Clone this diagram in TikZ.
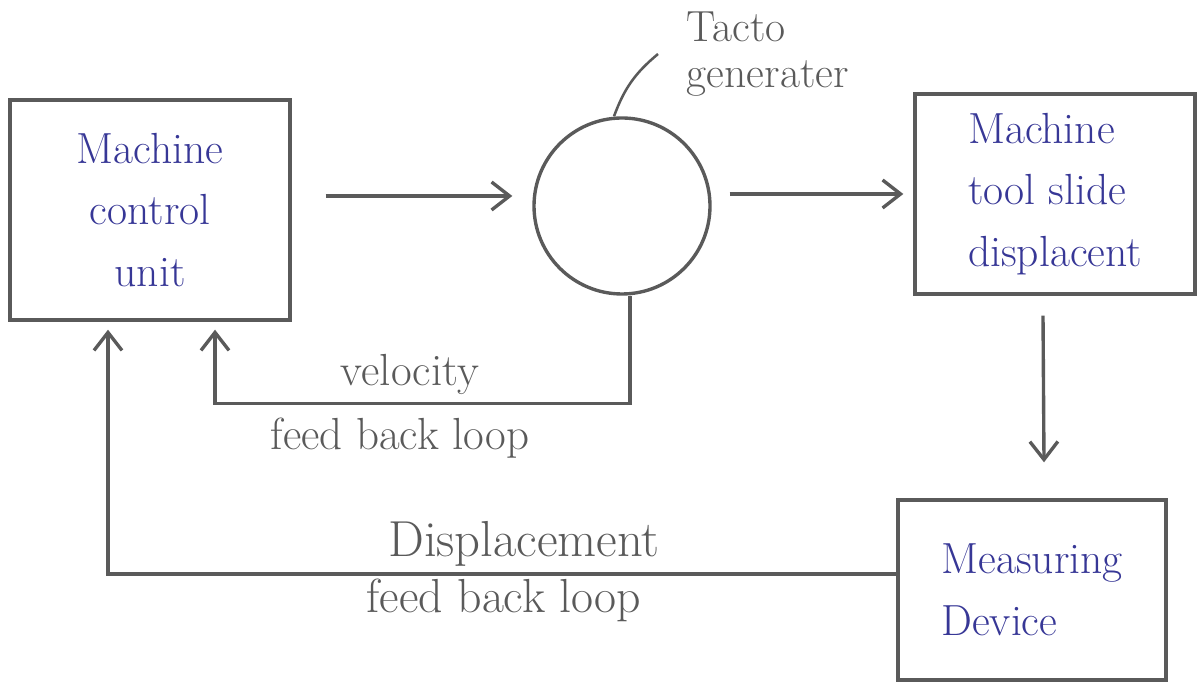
\documentclass[tikz,border=0pt]{standalone}
\usepackage{tikz}
\usetikzlibrary{arrows.meta, positioning, calc}
\definecolor{pencil}{RGB}{90,90,90}
\definecolor{ink}{RGB}{55,55,150}
\tikzset{
    base/.style = {rectangle, draw=pencil, line width=2.4pt, font=\fontsize{31}{44}\selectfont, text=ink},
    block/.style = {base, minimum width=7cm, minimum height=5.5cm, align=center},
    tacho/.style = {circle, draw=pencil, line width=2.4pt, minimum size=4.4cm},
    note/.style = {font=\fontsize{32}{40}\selectfont, text=pencil, align=left},
    arrow/.style = {line width=2.4pt, draw=pencil, -{Straight Barb[length=0.45cm, width=0.7cm, line width=2.4pt]}},
    leader/.style = {line width=1.8pt, draw=pencil}
}
\begin{document}
\begin{tikzpicture}
        \useasboundingbox (0,0) rectangle (30,17.15);

        % Forward path
        \node (mcu) [block] at (3.75,11.9) {Machine\\control\\unit};
        \node (tacho) [tacho] at (15.55,12.0) {};
        \node (slide) [block, minimum height=5cm, align=left] at (26.375,12.3) {Machine\\tool slide\\displacent};

        % Label of the tacho generator
        \node (tacto) [note, anchor=west, font=\fontsize{31}{33}\selectfont] at (17.05,15.8) {Tacto\\generater};

        % Measuring device
        \node (meas) [block, minimum width=6.7cm, minimum height=4.5cm, align=left] at (25.8,2.4) {Measuring\\Device};

        % Arrows
        \draw [arrow] ([xshift=0.85cm]mcu.east |- 0,12.25) -- ([xshift=-0.5cm]tacho.west |- 0,12.25);
        \draw [arrow] ([xshift=0.45cm]tacho.east |- 0,12.3) -- ([xshift=-0.25cm]slide.west |- 0,12.3);
        \draw [arrow] ([xshift=-0.3cm, yshift=-0.5cm]slide.south) -- ([xshift=0.3cm, yshift=0.9cm]meas.north);
        \draw [leader] ([xshift=-0.2cm]tacho.north) to[bend left=15] ([xshift=-0.6cm]tacto.west);

        % Velocity feed back loop
        \draw [arrow] ([xshift=0.2cm]tacho.south) |- ++(0,-2.7) coordinate (vel) -| ([xshift=1.625cm, yshift=-0.2cm]mcu.south);
        \node (vlabel) [note] at (10.25,7.8) {velocity};
        \node (vloop) [note] at (10.0,6.2) {feed back loop};

        % Displacement feed back loop
        \draw [arrow] ([yshift=0.4cm]meas.west) -| ([xshift=-1.05cm, yshift=-0.2cm]mcu.south);
        \node (dlabel) [note, font=\fontsize{36}{40}\selectfont] at (13.1,3.55) {Displacement};
        \node (dloop) [note, font=\fontsize{34}{40}\selectfont] at (12.6,2.15) {feed back loop};
\end{tikzpicture}
\end{document}
